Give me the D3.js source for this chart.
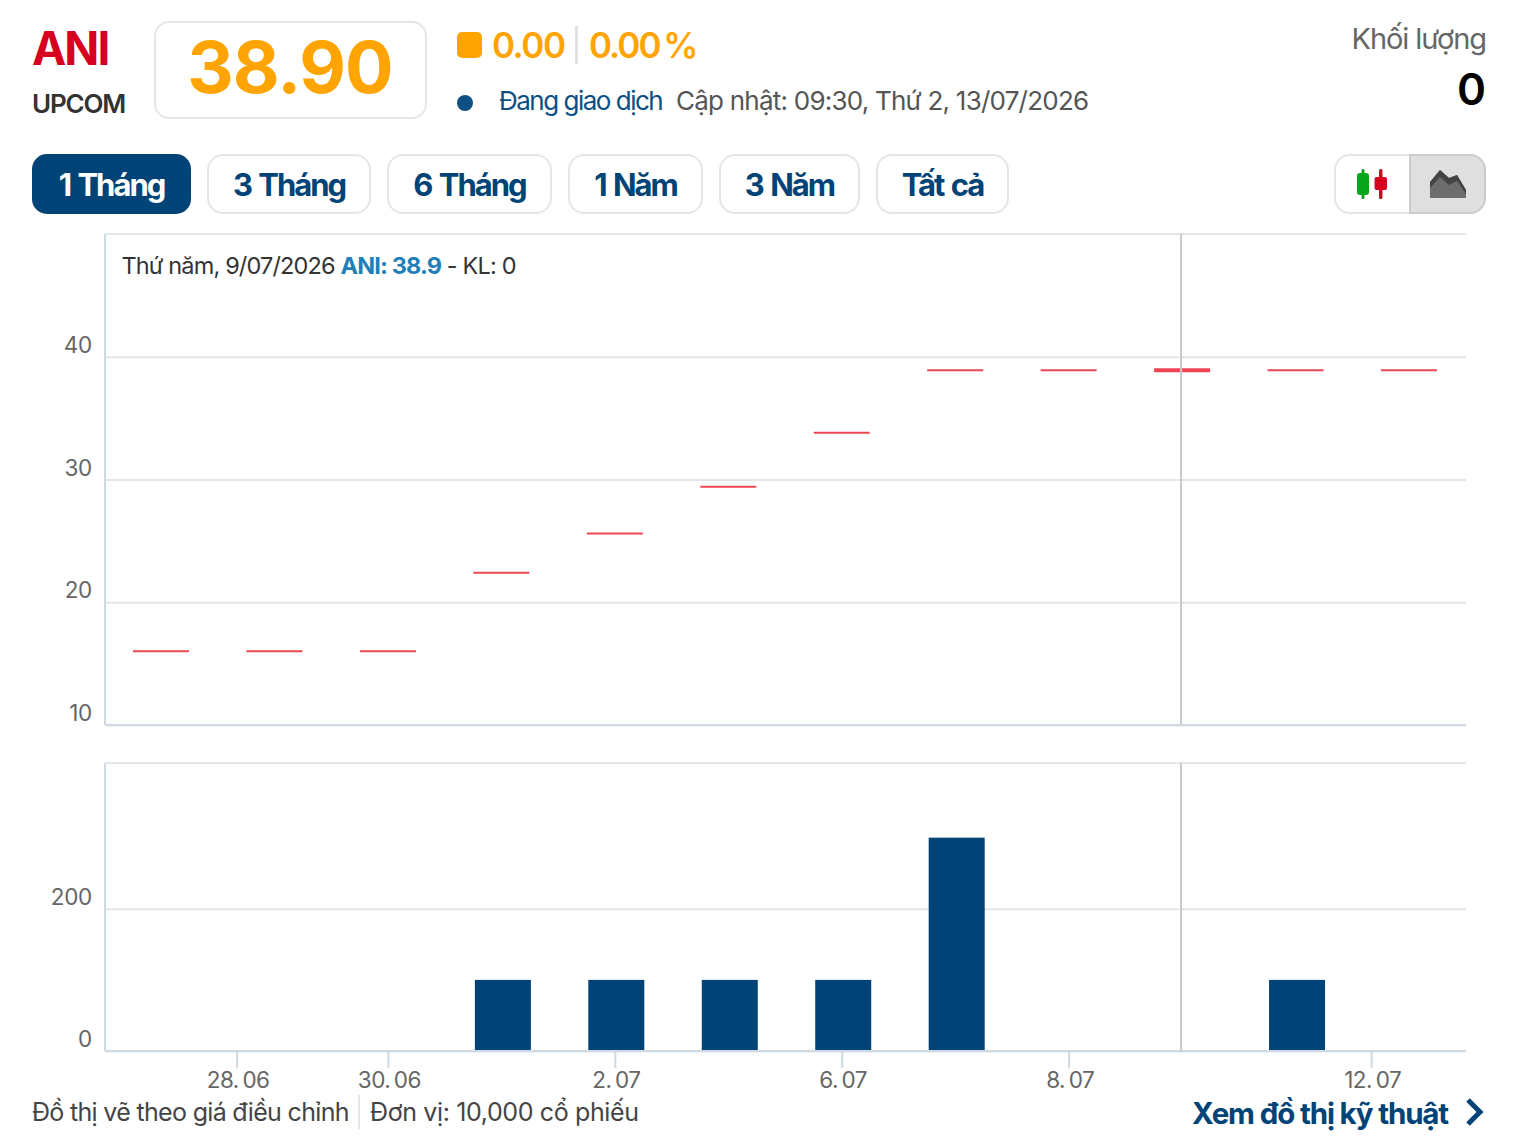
<!DOCTYPE html>
<html>
<head>
<meta charset="utf-8">
<script src="https://cdn.jsdelivr.net/npm/d3@7"></script>
<style>
  html, body { margin: 0; background: #fff; }
  svg { display: block; }
  text { font-family: Inter, "Noto Sans", sans-serif; }
</style>
</head>
<body>
<div id="chart"></div>
<script>
// trading sessions shown on the chart
const sessions = ["2026-06-26", "2026-06-29", "2026-06-30", "2026-07-01", "2026-07-02", "2026-07-03",
  "2026-07-06", "2026-07-07", "2026-07-08", "2026-07-09", "2026-07-10", "2026-07-13"]
const prices = [16, 16, 16, 22.4, 25.6, 29.4, 33.8, 38.9, 38.9, 38.9, 38.9, 38.9]
const volumes = [0, 0, 0, 100, 100, 100, 100, 300, 0, 0, 100, 0]
const hoveredSession = "2026-07-09"

const dateTicks = ["2026-06-28", "2026-06-30", "2026-07-02", "2026-07-06", "2026-07-08", "2026-07-12"]
const priceTicks = [10, 20, 30, 40]
const volumeTicks = [0, 200]
const ranges = ["1 Tháng", "3 Tháng", "6 Tháng", "1 Năm", "3 Năm", "Tất cả"]

const navy = "#004376"
const orange = "#ffa400"
const gridColor = "#e3e6ea"
const axisColor = "#cfd9e3"

const parseDate = d3.timeParse("%Y-%m-%d")
const svg = d3.select("#chart").append("svg").attr("width", 1518).attr("height", 1148)

function label(x, y, str, size, color, weight, anchor, spacing) {
  return svg.append("text")
    .attr("x", x).attr("y", y)
    .attr("font-size", size)
    .attr("fill", color)
    .attr("font-weight", weight || 400)
    .attr("text-anchor", anchor || "start")
    .attr("letter-spacing", spacing || 0)
    .text(str)
}

// Header
label(32, 65, "ANI", 46, "#d7001f", 700, "start", -2)
label(32, 113, "UPCOM", 26, "#333", 600, "start", -1.2)

svg.append("rect").attr("x", 155).attr("y", 22).attr("width", 271).attr("height", 96).attr("rx", 14)
  .attr("fill", "#fff").attr("stroke", "#e6e6e6").attr("stroke-width", 2)
label(290, 93, "38.90", 72, orange, 700, "middle", -1)

svg.append("rect").attr("x", 457).attr("y", 32).attr("width", 25).attr("height", 26).attr("rx", 5).attr("fill", orange)
label(492, 58, "0.00", 35, orange, 600, "start", -1.5)
svg.append("rect").attr("x", 575).attr("y", 26).attr("width", 3).attr("height", 38).attr("fill", "#dde1e5")
label(589, 58, "0.00\u2009%", 35, orange, 600, "start", -2)

svg.append("circle").attr("cx", 465).attr("cy", 103).attr("r", 8).attr("fill", "#0b4f85")
label(499, 110, "Đang giao dịch", 26, "#0b4f85", 400, "start", -1.5)
label(676, 110, "Cập nhật: 09:30, Thứ 2, 13/07/2026", 26, "#555", 400, "start", -0.77)

label(1486, 49, "Khối lượng", 29, "#666", 400, "end", -1.1)
label(1486, 105, "0", 44, "#000", 600, "end")

// Range buttons
const buttonX = [32, 208, 388, 569, 720, 877]
const buttonW = [159, 162, 163, 133, 139, 131]
ranges.forEach((r, i) => {
  const active = i === 0
  svg.append("rect")
    .attr("x", buttonX[i]).attr("y", active ? 154 : 155)
    .attr("width", buttonW[i]).attr("height", active ? 60 : 58).attr("rx", 15)
    .attr("fill", active ? navy : "#fff")
    .attr("stroke", active ? navy : "#e6e6e6").attr("stroke-width", active ? 0 : 2)
  label(buttonX[i] + buttonW[i] / 2, 196, r, 31, active ? "#fff" : navy, 700, "middle", -2)
    .attr("word-spacing", 2)
})

// Chart type toggle
svg.append("rect").attr("x", 1335).attr("y", 155).attr("width", 150).attr("height", 58).attr("rx", 15)
  .attr("fill", "#fff").attr("stroke", "#e6e6e6").attr("stroke-width", 2)
svg.append("path").attr("d", "M1410 155H1470a15 15 0 0 1 15 15V198a15 15 0 0 1 -15 15H1410Z")
  .attr("fill", "#dfdfdf").attr("stroke", "#cccccc").attr("stroke-width", 2)
// green and red candle glyphs
svg.append("rect").attr("x", 1361.5).attr("y", 169).attr("width", 3).attr("height", 30).attr("rx", 1.5).attr("fill", "#08a51b")
svg.append("rect").attr("x", 1357).attr("y", 173).attr("width", 12).attr("height", 22).attr("rx", 3).attr("fill", "#08a51b")
svg.append("rect").attr("x", 1379).attr("y", 169).attr("width", 3.500).attr("height", 30).attr("rx", 1.5).attr("fill", "#d7001f")
svg.append("rect").attr("x", 1374.500).attr("y", 177).attr("width", 12.500).attr("height", 13).attr("rx", 2).attr("fill", "#d7001f")
svg.append("path").attr("d", "M1430 198V182L1440 170L1449 178L1457 175L1466 190V198Z").attr("fill", "#6d6d6d")
svg.append("path").attr("d", "M1430 182L1440 170L1449 178L1457 175L1466 190V194L1457 181L1449 185L1440 177L1430 188Z").attr("fill", "#444")

// Scales
const left = 105, right = 1466
const sessionDates = sessions.map(parseDate)
const slot = d3.scalePoint().domain(sessions).range([161, 1409])
// polylinear time scale so weekends are squeezed between sessions, like the original axis
const x = d3.scaleTime().domain(sessionDates).range(sessions.map(s => slot(s)))
const yPrice = d3.scaleLinear().domain([10, 50]).range([725, 234])
const yVolume = d3.scaleLinear().domain([0, 405]).range([1051, 763])

const barWidth = 56

function drawYAxis(scale, ticks, fmt) {
  const g = svg.append("g").attr("transform", `translate(${left},0)`)
    .call(d3.axisLeft(scale).tickValues(ticks).tickSize(-(right - left)).tickFormat(fmt))
  g.select(".domain").remove()
  g.selectAll(".tick line").attr("stroke", gridColor).attr("stroke-width", 2)
  g.selectAll(".tick text")
    .attr("x", -13).attr("dy", "-0.2em")
    .attr("font-size", 22.5).attr("fill", "#666").attr("font-family", "Inter")
    .attr("letter-spacing", -0.3)
  return g
}

// Frame lines for both panes
function drawFrame(scale) {
  const [bottom, top] = scale.range()
  svg.append("line").attr("x1", left).attr("x2", left).attr("y1", top).attr("y2", bottom)
    .attr("stroke", axisColor).attr("stroke-width", 2)
  svg.append("line").attr("x1", left).attr("x2", right).attr("y1", top).attr("y2", top)
    .attr("stroke", gridColor).attr("stroke-width", 2)
  svg.append("line").attr("x1", left).attr("x2", right).attr("y1", bottom).attr("y2", bottom)
    .attr("stroke", axisColor).attr("stroke-width", 2)
}

drawYAxis(yPrice, priceTicks, d3.format("d"))
drawYAxis(yVolume, volumeTicks, d3.format("d"))
drawFrame(yPrice)
drawFrame(yVolume)

// Price marks: open and close are equal so each candle collapses to a dash
svg.selectAll(".price-dash")
  .data(sessions.map((s, i) => ({ session: s, price: prices[i] })))
  .enter().append("line")
  .attr("class", "price-dash")
  .attr("x1", d => slot(d.session) - barWidth / 2)
  .attr("x2", d => slot(d.session) + barWidth / 2)
  .attr("y1", d => yPrice(d.price))
  .attr("y2", d => yPrice(d.price))
  .attr("stroke", "#ee4653")
  .attr("stroke-width", d => d.session === hoveredSession ? 4 : 2)

// Volume bars
svg.selectAll(".volume-bar")
  .data(sessions.map((s, i) => ({ session: s, volume: volumes[i] })).filter(d => d.volume > 0))
  .enter().append("rect")
  .attr("class", "volume-bar")
  .attr("x", d => slot(d.session) - barWidth / 2 + 1.5)
  .attr("y", d => yVolume(d.volume))
  .attr("width", barWidth)
  .attr("height", d => yVolume(0) - yVolume(d.volume) - 1)
  .attr("fill", navy)

// Crosshair on the hovered session
;[yPrice, yVolume].forEach(scale => {
  const [bottom, top] = scale.range()
  svg.append("line")
    .attr("x1", slot(hoveredSession) - 1).attr("x2", slot(hoveredSession) - 1)
    .attr("y1", top).attr("y2", bottom)
    .attr("stroke", "#c8c8c8").attr("stroke-width", 2)
})

// Date axis
const xAxis = svg.append("g").attr("transform", `translate(0,${yVolume(0)})`)
  .call(d3.axisBottom(x).tickValues(dateTicks.map(parseDate)).tickSize(17).tickFormat(d3.timeFormat("%-d.%m")))
xAxis.select(".domain").remove()
xAxis.selectAll(".tick line").attr("stroke", axisColor).attr("stroke-width", 2)
xAxis.selectAll(".tick text")
  .attr("y", 19).attr("dy", "0.8em").attr("dx", 1)
  .attr("font-size", 22.5).attr("fill", "#666").attr("font-family", "Inter")
  .attr("letter-spacing", -0.5)
  .text(d => d3.timeFormat("%-d")(d) + ".\u2009" + d3.timeFormat("%m")(d))

// Tooltip line at the top of the price pane
const info = label(121.5, 274, "", 23.5, "#333", 400, "start", -0.85)
info.append("tspan").text("Thứ năm, 9/07/2026 ")
info.append("tspan").attr("fill", "#1f7fb8").attr("font-weight", 700).text("ANI: 38.9")
info.append("tspan").text(" - KL: 0")

// Footer
label(32, 1121, "Đồ thị vẽ theo giá điều chỉnh", 25, "#444", 400, "start", -0.68)
svg.append("line").attr("x1", 359).attr("x2", 359).attr("y1", 1095).attr("y2", 1129).attr("stroke", "#e3e6ea").attr("stroke-width", 2)
label(370, 1121, "Đơn vị: 10,000 cổ phiếu", 25, "#444", 400, "start", -0.37)
label(1448, 1124, "Xem đồ thị kỹ thuật", 29.5, navy, 700, "end", -1.15)
svg.append("path").attr("d", "M1468 1100L1480 1112L1468 1124").attr("fill", "none").attr("stroke", navy).attr("stroke-width", 5)
</script>
</body>
</html>
